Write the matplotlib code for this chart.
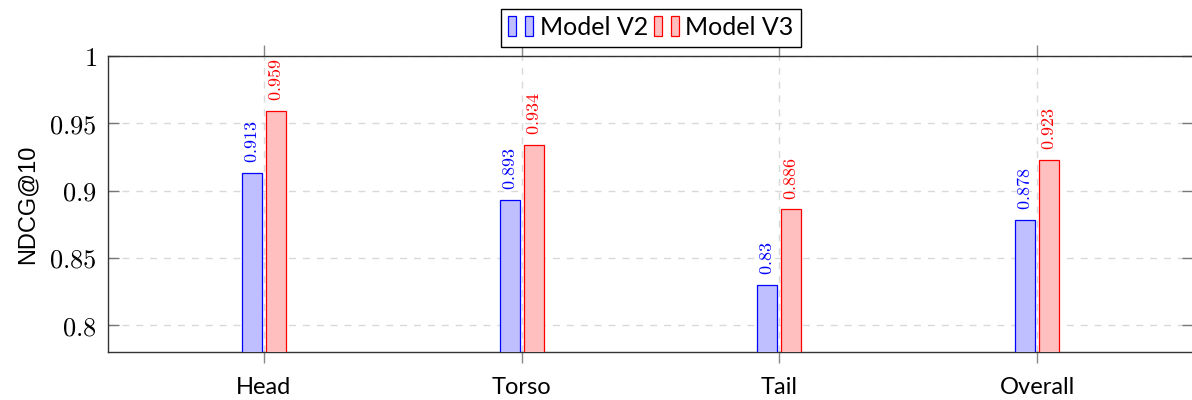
import matplotlib
matplotlib.use("Agg")
import matplotlib.pyplot as plt
import numpy as np
from matplotlib.patches import Rectangle
from matplotlib.legend_handler import HandlerBase

categories = ["Head", "Torso", "Tail", "Overall"]
series_names = ["Model V2", "Model V3"]
v2_values = [0.913, 0.893, 0.83, 0.878]
v3_values = [0.959, 0.934, 0.886, 0.923]
y_ticks = [0.8, 0.85, 0.9, 0.95, 1.0]
y_tick_labels = ["0.8", "0.85", "0.9", "0.95", "1"]

plt.rcParams['mathtext.fontset'] = 'cm'

BLUE_E, BLUE_F = "#0000ff", "#bfbfff"
RED_E, RED_F = "#ff0000", "#ffbfbf"

fig = plt.figure(figsize=(11.92, 4.0), dpi=100)
ax = fig.add_axes([108/1192, 0.12, (1193-108)/1192, 0.74])

x = np.arange(len(categories))
spacing = 257.7
bw = 20/spacing
off = 12/spacing

ax.bar(x - off, v2_values, bw, color=BLUE_F, edgecolor=BLUE_E, linewidth=0.9, zorder=3)
ax.bar(x + off, v3_values, bw, color=RED_F, edgecolor=RED_E, linewidth=0.9, zorder=3)

for xi, v in zip(x - off, v2_values):
    ax.annotate(f"${v:g}$", (xi, v), xytext=(0, 7), textcoords='offset points',
                rotation=90, ha='center', va='bottom', color=BLUE_E, fontsize=13,
                annotation_clip=False)
for xi, v in zip(x + off, v3_values):
    ax.annotate(f"${v:g}$", (xi, v), xytext=(0, 7), textcoords='offset points',
                rotation=90, ha='center', va='bottom', color=RED_E, fontsize=13,
                annotation_clip=False)

ax.set_xlim(-0.605, 3.605)
ax.set_ylim(0.78, 1.0)
ax.set_yticks(y_ticks)
ax.set_yticklabels([f"${t}$" for t in y_tick_labels], fontsize=19)
ax.set_xticks(x)
ax.set_xticklabels(categories, fontsize=17, family="Lato")
ax.set_ylabel("NDCG@10", fontsize=17, family="Liberation Sans", labelpad=8)

ax.grid(True, color="#d9d9d9", linestyle=(0, (5, 5)), linewidth=1, zorder=0)
ax.set_axisbelow(True)
ax.tick_params(axis='y', direction='in', length=8, color="#777777", left=True, right=True, width=1, pad=8)
ax.tick_params(axis='x', direction='out', length=8, color="#888888", top=True, bottom=True, width=1, pad=10)
for s in ax.spines.values():
    s.set_color("#333333")
    s.set_linewidth(1)


class TwoBars(HandlerBase):
    def create_artists(self, legend, orig_handle, xdescent, ydescent, width, height, fontsize, trans):
        w = width * 0.32
        fc = orig_handle.get_facecolor()
        ec = orig_handle.get_edgecolor()
        r1 = Rectangle((-xdescent, -ydescent), w, height, facecolor=fc, edgecolor=ec, lw=0.9, transform=trans)
        r2 = Rectangle((-xdescent + width - w, -ydescent), w, height, facecolor=fc, edgecolor=ec, lw=0.9, transform=trans)
        return [r1, r2]


h1 = Rectangle((0, 0), 1, 1, facecolor=BLUE_F, edgecolor=BLUE_E)
h2 = Rectangle((0, 0), 1, 1, facecolor=RED_F, edgecolor=RED_E)
leg = fig.legend([h1, h2], series_names, loc='center', bbox_to_anchor=(651/1192, 1 - 27.5/400),
                 ncol=2, handler_map={Rectangle: TwoBars()}, prop={'family': 'Lato', 'size': 18},
                 handlelength=1.0, handleheight=0.85, handletextpad=0.25, columnspacing=0.25,
                 borderpad=0.3, frameon=True, fancybox=False, edgecolor='black', framealpha=1)
leg.get_frame().set_linewidth(1)

fig.savefig("out.png", dpi=100)
